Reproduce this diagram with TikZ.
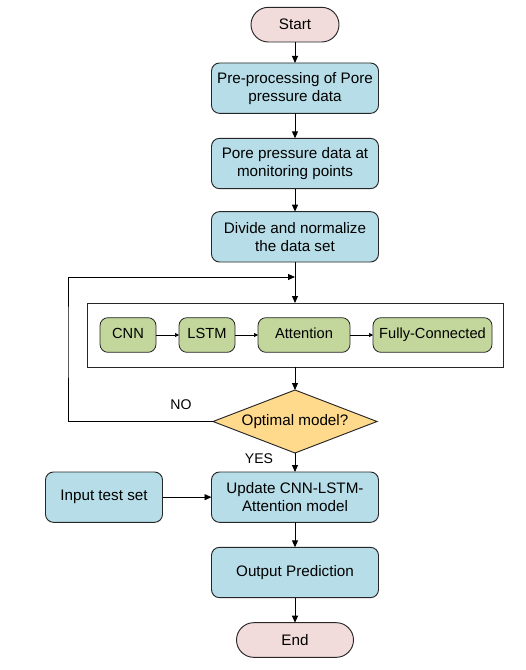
\documentclass[tikz,border=0pt]{standalone}
\usepackage{fontspec}
\setmainfont{Liberation Sans}
\usetikzlibrary{arrows.meta,positioning,shapes.geometric}
\definecolor{fblue}{HTML}{B7DEE8}
\definecolor{fpink}{HTML}{F2DCDB}
\definecolor{fgreen}{HTML}{C3D69B}
\definecolor{fyellow}{HTML}{FFD98C}
\tikzset{
  proc/.style  ={rectangle, rounded corners=2.4mm, draw=black!85, fill=fblue,
                 line width=0.8pt, align=center, minimum width=50.1mm,
                 minimum height=15.1mm, inner sep=2pt, outer sep=0pt,
                 font=\fontsize{13}{15.5}\selectfont},
  term/.style  ={proc, rounded corners=5.2mm, fill=fpink, minimum height=10.4mm},
  cell/.style  ={rectangle, rounded corners=2.4mm, draw=black!85, fill=fgreen,
                 line width=0.7pt, minimum height=10.4mm, inner sep=1pt,
                 text height=9pt, text depth=2.6pt,
                 outer sep=0pt, font=\fontsize{12.5}{15}\selectfont},
  test/.style  ={diamond, aspect=2.6, draw=black!85, fill=fyellow,
                 line width=0.8pt, minimum width=49.2mm, minimum height=18.9mm,
                 inner sep=0pt, outer sep=0pt, font=\fontsize{13}{15.5}\selectfont},
  frame/.style ={rectangle, draw=black!85, line width=0.8pt, outer sep=0pt,
                 minimum width=124.8mm, minimum height=19.2mm},
  ar/.style    ={-{Triangle[length=2.1mm,width=1.8mm]}, line width=0.8pt},
  ars/.style   ={-{Triangle[length=1.2mm,width=1.2mm]}, line width=0.6pt},
  lbl/.style   ={font=\fontsize{12}{14}\selectfont}
}
\begin{document}
\begin{tikzpicture}[node distance=6.9mm]
\useasboundingbox (0,0) rectangle (15.75,-20.1);
\node[term, minimum width=26.4mm] (start) at (8.85,-0.74) {Start};
\node[proc, below=6.3mm of start] (pre) {Pre-processing of Pore\\pressure data};
\node[proc, below=7.5mm of pre] (pore) {Pore pressure data at\\monitoring points};
\node[proc, below=of pore] (split) {Divide and normalize\\the data set};
\node[frame, below=12.3mm of split] (net) {};
\node[cell, minimum width=16.8mm, right=3.9mm of net.west] (cnn) {CNN};
\node[cell, minimum width=16.8mm, right=6.9mm of cnn] (lstm) {LSTM};
\node[cell, minimum width=27.6mm, right=6.9mm of lstm] (att) {Attention};
\node[cell, minimum width=35.7mm, right=6.9mm of att] (fc) {Fully-Connected};
\node[test, below=of net] (opt) {Optimal model?};
\node[proc, below=5.7mm of opt] (upd) {Update CNN-LSTM-\\Attention model};
\node[proc, minimum width=35.1mm, left=14.7mm of upd] (input) {Input test set};
\node[proc, below=7.5mm of upd] (out) {Output Prediction};
\node[term, minimum width=35.1mm, below=7.5mm of out] (stop) {End};
\coordinate (merge) at ([yshift=-4.5mm]split.south);
% main flow
\draw[ar] (start) -- (pre);
\draw[ar] (pre) -- (pore);
\draw[ar] (pore) -- (split);
\draw[ar] (split) -- (net);
\draw[ars] (cnn) -- (lstm);
\draw[ars] (lstm) -- (att);
\draw[ars] (att) -- (fc);
\draw[ar] (net) -- (opt);
\draw[ar] (opt) -- (upd);
\draw[ar] (input) -- (upd);
\draw[ar] (upd) -- (out);
\draw[ar] (out) -- (stop);
% feedback loop
\draw[ar] (opt.west) -| ([xshift=-5.7mm]net.west) |- (merge);
\node[lbl] (no) at ([xshift=-9.6mm,yshift=5.2mm]opt.west) {NO};
\node[lbl] (yes) at ([xshift=-10.8mm,yshift=-1.6mm]opt.south) {YES};
\end{tikzpicture}
\end{document}
